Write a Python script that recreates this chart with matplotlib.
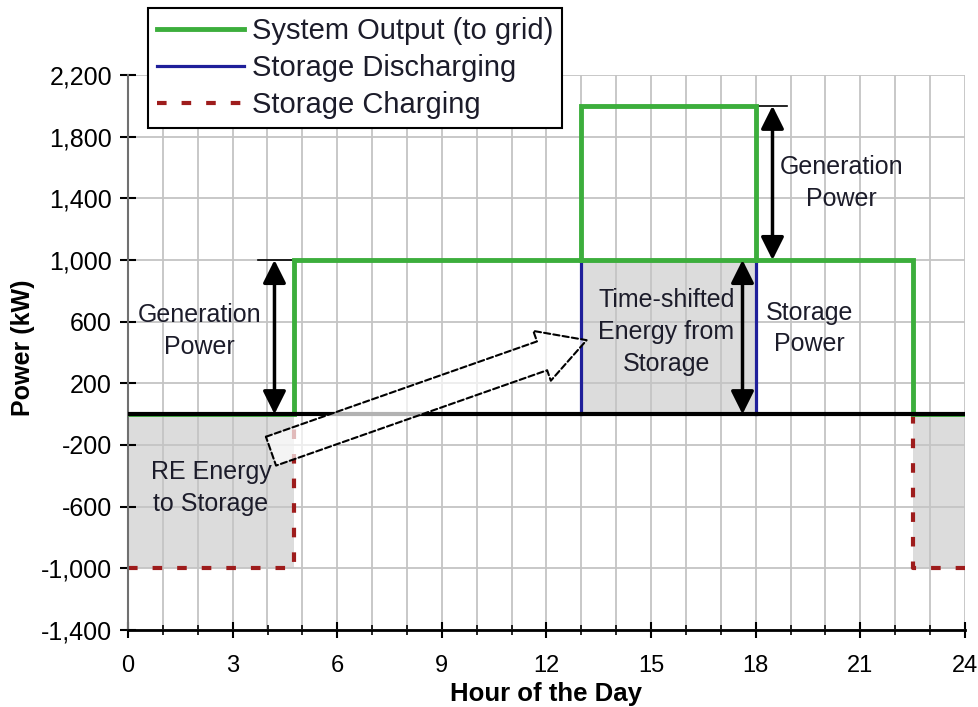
import matplotlib
matplotlib.use("Agg")
import matplotlib.pyplot as plt
from matplotlib.ticker import FuncFormatter, MultipleLocator

plt.rcParams['font.family'] = ['Liberation Sans', 'DejaVu Sans']

# hour edges of each operating interval and the power in each interval (kW)
hours = [0, 4.75, 13, 18, 22.5, 24]
generation_kw = [0, 1000, 1000, 1000, 0]
discharge_kw = [0, 0, 1000, 0, 0]
charge_kw = [-1000, 0, 0, 0, -1000]
output_kw = [g + d for g, d in zip(generation_kw, discharge_kw)]

y_ticks = [-1400, -1000, -600, -200, 200, 600, 1000, 1400, 1800, 2200]

green = '#3cae3c'
blue = '#1f1f9a'
red = '#9e1c1c'
grey_fill = '#dcdcdc'
text_col = '#1c1c2a'

fig = plt.figure(figsize=(9.79, 7.07), dpi=100)
ax = fig.add_axes([128 / 979, 77 / 707, 837 / 979, 555 / 707])

# shaded energy areas
ax.stairs(charge_kw, hours, baseline=0, fill=True, color=grey_fill, zorder=0.3)
ax.stairs(discharge_kw, hours, baseline=0, fill=True, color=grey_fill, zorder=0.3)

# storage charging (dashed red), only where it is non-zero
t_on, t_dis0, t_dis1, t_off = hours[1], hours[2], hours[3], hours[4]
red_line, = ax.plot([hours[0], t_on, t_on], [charge_kw[0], charge_kw[0], 0], color=red, lw=3,
                    ls=(0, (2.3, 3.6)), label='Storage Charging', zorder=2)
ax.plot([t_off, t_off, hours[-1]], [0, charge_kw[-1], charge_kw[-1]], color=red, lw=3,
        ls=(0, (2.3, 3.6)), zorder=2)

# storage discharging box
blue_line, = ax.plot([t_dis0, t_dis0, t_dis1, t_dis1], [0, discharge_kw[2], discharge_kw[2], 0],
                     color=blue, lw=2.3, label='Storage Discharging', zorder=3)

# system output
ax.stairs(output_kw, hours, baseline=None, color=green, lw=3.5, zorder=3.5)
green_line, = ax.plot([t_dis0, t_dis1], [generation_kw[2], generation_kw[2]], color=green, lw=3.5,
                      label='System Output (to grid)', zorder=3.5)
ax.plot(hours[:2], [output_kw[0]] * 2, color=green, lw=2, zorder=3.4)

ax.axhline(0, color='black', lw=3, zorder=4)

# axes styling
ax.set_xlim(0, 24)
ax.set_ylim(-1400, 2200)
ax.set_yticks(y_ticks)
ax.yaxis.set_major_formatter(FuncFormatter(lambda v, p: f"{v:,.0f}"))
ax.xaxis.set_major_locator(MultipleLocator(3))
ax.xaxis.set_minor_locator(MultipleLocator(1))
ax.set_axisbelow(True)
ax.grid(axis='y', which='major', color='#c4c4c4', lw=1.3)
ax.grid(axis='x', which='both', color='#c4c4c4', lw=1.3)
for s in ['top', 'right']:
    ax.spines[s].set_visible(False)
ax.spines['left'].set_color('#707070')
ax.spines['left'].set_linewidth(1.5)
ax.spines['bottom'].set_linewidth(2)
ax.tick_params(axis='x', which='major', direction='inout', length=12, width=1.5,
               labelsize=17, pad=12)
ax.tick_params(axis='x', which='minor', direction='inout', length=7, width=1.2)
ax.tick_params(axis='y', direction='inout', length=11, width=1.5, labelsize=18, pad=6)

ax.set_xlabel('Hour of the Day', fontsize=18.5, fontweight='bold')
ax.xaxis.set_label_coords(0.5, -0.094)
ax.set_ylabel('Power (kW)', fontsize=18, fontweight='bold')
ax.yaxis.set_label_coords(-0.111, 0.508)

# annotations
dbl = dict(arrowstyle='<|-|>,head_length=0.7,head_width=0.35', color='black', lw=2.5,
           mutation_scale=20, shrinkA=0, shrinkB=0)
ax.annotate('', xy=(4.2, generation_kw[1]), xytext=(4.2, 0), arrowprops=dbl, zorder=5)
ax.annotate('', xy=(18.48, output_kw[2]), xytext=(18.48, generation_kw[2]), arrowprops=dbl, zorder=5)
ax.annotate('', xy=(17.62, discharge_kw[2]), xytext=(17.62, 0), arrowprops=dbl, zorder=5)
ax.plot([3.72, t_on], [generation_kw[1]] * 2, color='black', lw=1.2, zorder=3)
ax.plot([t_dis1, 18.9], [output_kw[2]] * 2, color='black', lw=1.2, zorder=3)

ax.annotate('', xy=(13.15, 480), xytext=(4.1, -240),
            arrowprops=dict(arrowstyle='simple,head_length=34,head_width=38,tail_width=22',
                            mutation_scale=1, fc=(1, 1, 1, 0.7), ec='black', lw=1.5,
                            ls=(0, (3, 1.5)), shrinkA=0, shrinkB=0), zorder=6)

tkw = dict(ha='center', va='center', fontsize=18, color=text_col, linespacing=1.4, zorder=7)
ax.text(2.05, 540, 'Generation\nPower', **tkw)
ax.text(2.38, -480, 'RE Energy\nto Storage', **tkw)
ax.text(15.44, 533, 'Time-shifted\nEnergy from\nStorage', **tkw)
ax.text(19.54, 556, 'Storage\nPower', **tkw)
ax.text(20.46, 1500, 'Generation\nPower', **tkw)

leg = ax.legend(handles=[green_line, blue_line, red_line], loc='upper left',
                bbox_to_anchor=(148 / 979, 1 - 8 / 707),
                bbox_transform=fig.transFigure, fontsize=21, frameon=True, fancybox=False,
                edgecolor='black', framealpha=1, borderpad=0.3, labelspacing=0.32,
                handlelength=3.0, handletextpad=0.25, borderaxespad=0)
leg.get_frame().set_linewidth(1.5)
for t in leg.get_texts():
    t.set_color(text_col)

fig.savefig('out.png', dpi=100)
